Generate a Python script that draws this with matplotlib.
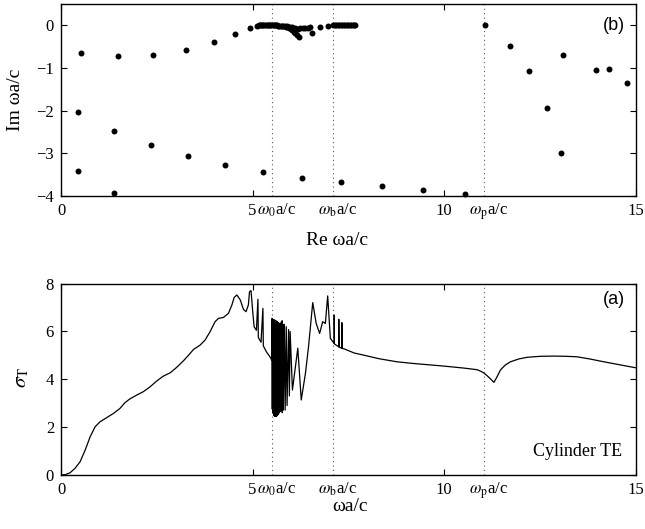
import matplotlib
matplotlib.use("Agg")
import matplotlib.pyplot as plt
import numpy as np

plt.rcParams['font.family'] = ['Liberation Serif', 'DejaVu Serif']
plt.rcParams['mathtext.fontset'] = 'stix'

# ---------------- data: panel (b) poles ----------------
re_upper = [0.51, 1.49, 2.40, 3.26, 3.99, 4.55, 4.92, 5.11]
im_upper = [-0.65, -0.73, -0.70, -0.58, -0.39, -0.195, -0.07, -0.02]

re_cluster = [5.16, 5.19, 5.22, 5.25, 5.28, 5.31, 5.34, 5.37, 5.40, 5.43, 5.46,
              5.49, 5.52, 5.55, 5.58, 5.61, 5.64, 5.67, 5.70, 5.73, 5.76, 5.80,
              5.84, 5.88, 5.92, 5.96, 6.00, 6.04, 6.08, 6.12, 6.16, 6.20,
              5.90, 5.97, 6.03, 6.10, 6.18, 6.25, 6.32, 6.38, 6.45, 6.50,
              6.55, 6.77, 6.96,
              7.10, 7.14, 7.18, 7.22, 7.26, 7.30, 7.34, 7.38, 7.42, 7.46, 7.50,
              7.54, 7.58, 7.62, 7.66, 7.68]
im_cluster = [0.0, 0.0, 0.0, 0.0, 0.0, 0.0, 0.0, 0.0, 0.0, 0.0, 0.0,
              0.0, 0.0, 0.0, 0.0, 0.0, 0.0, -0.01, -0.01, -0.01, -0.01, -0.02,
              -0.02, -0.03, -0.05, -0.07, -0.09, -0.12, -0.15, -0.19, -0.22, -0.28,
              -0.02, -0.04, -0.05, -0.07, -0.08, -0.07, -0.07, -0.06, -0.06, -0.05,
              -0.18, -0.04, -0.01,
              0.0, 0.0, 0.0, 0.0, 0.0, 0.0, 0.0, 0.0, 0.0, 0.0, 0.0,
              0.0, 0.0, 0.0, 0.0, 0.0]

re_mid = [0.45, 1.39, 2.34, 3.31, 4.28, 5.28, 6.29, 7.31, 8.38, 9.46, 10.55]
im_mid = [-2.04, -2.48, -2.81, -3.07, -3.28, -3.44, -3.58, -3.67, -3.76, -3.86, -3.95]

re_low = [0.45, 1.38]
im_low = [-3.41, -3.94]

re_right = [11.06, 11.72, 12.21, 12.69, 13.09, 13.06, 13.97, 14.29, 14.76]
im_right = [0.0, -0.48, -1.06, -1.93, -0.70, -2.99, -1.04, -1.02, -1.36]

# ---------------- data: panel (a) cross section ----------------
sig_x1 = [0.05, 0.105, 0.235, 0.366, 0.50, 0.63, 0.76, 0.89, 1.02, 1.19, 1.37,
          1.54, 1.67, 1.80, 1.98, 2.15, 2.33, 2.50, 2.67, 2.85, 3.02, 3.20,
          3.33, 3.46, 3.63, 3.76, 3.89, 4.02, 4.11, 4.24, 4.37, 4.46, 4.52,
          4.59, 4.68, 4.76, 4.83, 4.89, 4.92, 4.96, 5.00, 5.04, 5.10, 5.14,
          5.15, 5.22, 5.27, 5.28, 5.36, 5.45, 5.50]
sig_y1 = [0.0, 0.0, 0.08, 0.27, 0.55, 1.03, 1.59, 2.01, 2.22, 2.39, 2.57,
          2.78, 3.02, 3.18, 3.34, 3.48, 3.69, 3.93, 4.13, 4.27, 4.50, 4.78,
          5.01, 5.25, 5.43, 5.64, 5.99, 6.41, 6.55, 6.59, 6.76, 7.11, 7.43,
          7.53, 7.32, 6.93, 6.83, 7.11, 7.67, 7.71, 6.90, 6.20, 6.05, 7.35,
          5.75, 5.55, 6.97, 5.40, 5.15, 4.95, 4.80]

osc_x = [5.51, 5.52, 5.53, 5.54, 5.55, 5.56, 5.57, 5.58, 5.59, 5.60,
         5.61, 5.62, 5.63, 5.64, 5.65, 5.66, 5.67, 5.68, 5.69, 5.70,
         5.71, 5.72, 5.73, 5.74, 5.75, 5.76, 5.77, 5.78, 5.79, 5.80]
osc_top = [6.55, 6.52, 6.50, 6.48, 6.50, 6.47, 6.45, 6.48, 6.44, 6.42,
           6.45, 6.40, 6.42, 6.38, 6.40, 6.35, 6.38, 6.33, 6.35, 6.30,
           6.32, 6.28, 6.30, 6.25, 6.40, 6.10, 6.45, 5.90, 6.30, 5.80]
osc_bot = [2.75, 2.65, 2.60, 2.55, 2.50, 2.47, 2.45, 2.45, 2.44, 2.45,
           2.45, 2.46, 2.47, 2.48, 2.50, 2.52, 2.55, 2.58, 2.60, 2.62,
           2.65, 2.68, 2.70, 2.72, 2.75, 2.80, 2.60, 2.90, 2.70, 3.00]

sig_x2 = [5.83, 5.85, 5.88, 5.90, 5.94, 5.96, 5.98, 6.04, 6.18, 6.27, 6.38,
          6.46, 6.57, 6.66, 6.75, 6.83, 6.90, 6.96, 7.03, 7.13, 7.13, 7.135,
          7.25, 7.25, 7.255, 7.33, 7.33, 7.335, 7.38, 7.50, 7.65, 7.90, 8.30,
          8.77, 9.20, 9.64, 10.00, 10.50, 10.86, 10.95, 11.03, 11.12, 11.22,
          11.30, 11.38, 11.47, 11.60, 11.73, 11.95, 12.17, 12.50, 12.86, 13.20,
          13.47, 13.80, 14.17, 14.60, 15.0]
sig_y2 = [6.30, 2.71, 6.20, 2.90, 6.08, 3.30, 6.00, 3.55, 5.30, 3.13, 4.25,
          5.36, 7.21, 6.34, 5.92, 6.41, 6.34, 7.49, 5.71, 5.50, 6.69, 5.48,
          5.36, 6.51, 5.35, 5.30, 6.37, 5.29, 5.28, 5.20, 5.10, 5.01, 4.86,
          4.73, 4.66, 4.60, 4.55, 4.47, 4.40, 4.34, 4.27, 4.15, 4.00,
          3.87, 4.10, 4.39, 4.60, 4.73, 4.85, 4.92, 4.96, 4.97, 4.96,
          4.94, 4.85, 4.73, 4.60, 4.48]

# characteristic frequencies
w0, wb, wp = 5.5, 7.1, 11.03
freq_pos = [w0, wb, wp]
freq_lab = [r'$\omega_{\rm 0}$a/c', r'$\omega_{\rm b}$a/c', r'$\omega_{\rm p}$a/c']

# build cross-section path
osc_path_x, osc_path_y = [], []
for xx, t, b in zip(osc_x, osc_top, osc_bot):
    osc_path_x += [xx, xx + 0.004]
    osc_path_y += [t, b]
sig_x = sig_x1 + osc_path_x + sig_x2
sig_y = sig_y1 + osc_path_y + sig_y2

fig = plt.figure(figsize=(6.45, 5.29), dpi=100)
axb = fig.add_axes([0.0946, 0.6295, 0.891, 0.363])
axa = fig.add_axes([0.0946, 0.1026, 0.891, 0.361])

def style(ax):
    ax.tick_params(direction='in', top=True, right=True, length=4, width=0.8,
                   labelsize=12, pad=5)
    for s in ax.spines.values():
        s.set_linewidth(1.0)
    ax.set_xlim(0, 15)
    ax.set_xticks([0, 5, 10, 15])
    ax.set_xticklabels(['0', '5', '10', '15'])
    for xp, lab in zip(freq_pos, freq_lab):
        ax.axvline(xp, color='0.35', ls=(0, (1, 3)), lw=0.8, zorder=0)
        ax.text(xp - 0.39, -0.03, lab, transform=ax.get_xaxis_transform(),
                ha='left', va='top', fontsize=12)

# panel (b)
style(axb)
axb.set_ylim(-4, 0.5)
axb.set_yticks([0, -1, -2, -3, -4])
axb.set_yticklabels(['0', '\u22121', '\u22122', '\u22123', '\u22124'])
for rx, ry in [(re_upper, im_upper), (re_cluster, im_cluster), (re_mid, im_mid),
               (re_low, im_low), (re_right, im_right)]:
    axb.plot(rx, ry, 'o', color='black', ms=4.3, mew=0, clip_on=False)
axb.text(0.48, -0.23, 'Re \u03c9a/c', transform=axb.transAxes, ha='center',
         va='center', fontsize=14)
axb.text(-0.08, 0.5, 'Im \u03c9a/c', transform=axb.transAxes, ha='center',
         va='center', rotation=90, fontsize=14)
axb.text(0.981, 0.89, '(b)', transform=axb.transAxes, ha='right', va='center',
         fontsize=13, family='Liberation Sans')

# panel (a)
style(axa)
axa.set_ylim(0, 8)
axa.set_yticks([0, 2, 4, 6, 8])
axa.plot(sig_x, sig_y, color='black', lw=0.9)
axa.text(0.503, -0.167, '\u03c9a/c', transform=axa.transAxes, ha='center',
         va='center', fontsize=14)
axa.text(-0.068, 0.51, r'$\sigma_{\rm T}$', transform=axa.transAxes,
         ha='center', va='center', rotation=90, fontsize=15)
axa.text(0.981, 0.917, '(a)', transform=axa.transAxes, ha='right',
         va='center', fontsize=13, family='Liberation Sans')
axa.text(0.977, 0.12, 'Cylinder TE', transform=axa.transAxes, ha='right',
         va='center', fontsize=13)

fig.savefig('out.png', dpi=100)
